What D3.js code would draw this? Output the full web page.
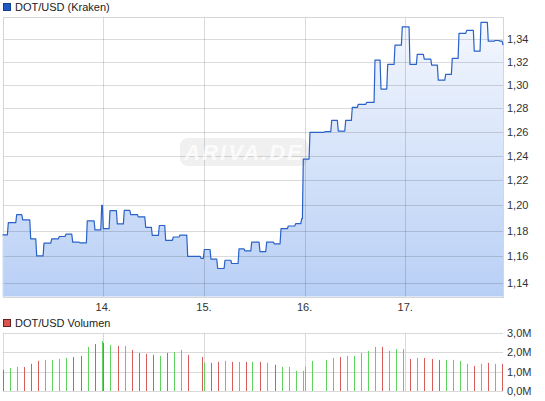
<!DOCTYPE html>
<html><head><meta charset="utf-8">
<script src="https://cdn.jsdelivr.net/npm/d3@7"></script>
<style>
body{margin:0;background:#fff}
svg{display:block}
text{font-family:"Liberation Sans",Arial,sans-serif}
</style>
</head><body>
<svg id="c" width="545" height="401"></svg>
<script>
// ---------- data ----------
const seriesName = "DOT/USD (Kraken)";
const volumeName = "DOT/USD Volumen";
// hours since 13th 00:00 (UTC) at which the price changes
const priceHours = [0,1.36,3.36,4.79,6.70,8.13,9.87,11.71,13.52,15.11,16.71,18.45,20.19,22.03,23.63,24.01,25.60,27.35,29.01,30.54,32.35,34.12,35.69,37.36,38.88,40.70,42.29,44.13,47.30,48.09,49.68,51.28,53.02,54.62,56.36,57.79,59.39,61.36,62.96,64.77,66.37,68.11,69.87,71.31,71.69,73.28,76.86,78.46,80.03,81.80,83.37,84.80,86.80,88.78,90.21,91.81,93.55,95.29,97.12,98.86,100.53,102.30,103.87,105.64,107.21,108.81,110.64,112.45,114.05,115.79,117.39,118.58,119.30];
const priceValues = [1.1767,1.1862,1.1926,1.1884,1.1736,1.1603,1.1702,1.1736,1.1754,1.1772,1.1710,1.1705,1.1876,1.1805,1.2000,1.1815,1.1957,1.1853,1.1959,1.1926,1.1908,1.1826,1.1762,1.1840,1.1723,1.1750,1.1765,1.1600,1.1585,1.1653,1.1578,1.1507,1.1570,1.1545,1.1657,1.1642,1.1710,1.1637,1.1710,1.1697,1.1815,1.1836,1.1855,1.1894,1.2374,1.2595,1.2601,1.2695,1.2606,1.2695,1.2805,1.2832,1.2848,1.3213,1.2962,1.3176,1.3346,1.3508,1.3176,1.3264,1.3223,1.3170,1.3039,1.3089,1.3229,1.3450,1.3477,1.3292,1.3548,1.3381,1.3387,1.3381,1.3346];
// volume bars
const volHours = [0,1.84,3.50,5.17,6.84,8.51,10.18,11.85,13.52,15.19,16.85,18.76,20.43,22.10,23.77,24.01,25.68,27.58,29.25,30.92,32.59,34.26,35.93,37.60,39.26,40.93,42.60,44.27,47.61,48.09,49.75,51.42,53.09,54.76,56.43,57.95,59.53,61.44,63.10,65.01,66.68,68.35,70.02,71.69,72.16,73.83,77.17,78.84,80.51,82.17,83.85,85.51,87.18,88.85,90.52,92.19,93.86,95.53,97.20,98.87,100.54,102.45,104.12,105.79,107.46,109.13,110.80,112.47,114.14,115.81,117.48,119.15];
const volValues = [1.09,1.19,1.24,1.24,1.40,1.55,1.60,1.60,1.65,1.70,1.75,1.81,2.27,2.42,2.57,2.47,2.37,2.32,2.32,2.11,1.96,1.91,1.86,1.81,1.96,2.01,2.11,1.86,1.75,1.45,1.45,1.50,1.55,1.50,1.50,1.50,1.50,1.50,1.45,1.35,1.24,1.24,1.04,1.04,1.24,1.55,1.60,1.70,1.75,1.81,1.81,1.96,2.06,2.27,2.27,2.06,2.16,2.16,1.65,1.70,1.70,1.65,1.60,1.60,1.60,1.55,1.40,1.29,1.40,1.45,1.40,1.40]; // millions
const volDir = ["d","u","u","d","d","d","u","u","u","u","d","d","u","d","u","d","u","d","u","d","d","d","d","u","d","u","u","d","d","u","d","d","u","d","u","d","u","d","u","d","u","u","u","u","u","u","u","u","d","u","u","u","u","u","d","u","u","u","d","u","d","d","d","u","u","u","u","d","u","d","u","d"];
const priceTicks = [1.14,1.16,1.18,1.20,1.22,1.24,1.26,1.28,1.30,1.32,1.34];
const volTicks = [0,1,2,3];
const dayTicks = [14,15,16,17];
const priceDomain = [1.1295,1.36];
const volDomain = [0,3];
const spanHours = 119.3;

// ---------- layout ----------
const L = 2.6, R = 503;
const mainTop = 16.7, mainBot = 296.5;
const volTop = 332.7, volBot = 391;
const base = Date.UTC(2026,0,13);
const hr = h => new Date(base + h*3600e3);

const svg = d3.select("#c");
const x = d3.scaleUtc().domain([hr(0), hr(spanHours)]).range([L, R]);
const y = d3.scaleLog().domain(priceDomain).range([mainBot, mainTop]);
const yv = d3.scaleLinear().domain(volDomain).range([volBot, volTop]);
const fmt = d3.format(".2f");
const comma = s => s.replace(".", ",");
const crisp = v => Math.round(v) + 0.5;

const defs = svg.append("defs");
const grad = defs.append("linearGradient").attr("id","g").attr("gradientUnits","userSpaceOnUse")
  .attr("x1",0).attr("x2",0).attr("y1",mainTop).attr("y2",mainBot);
grad.append("stop").attr("offset",0).attr("stop-color","#f5f8fe");
grad.append("stop").attr("offset",1).attr("stop-color","#b8cff5");

// step path with short sloped transitions (as the original rendering)
const pts = [];
priceHours.forEach((h,i)=>{
  if (i>0) pts.push({t:hr(Math.max(priceHours[i-1], h-0.22)), v:priceValues[i-1]});
  pts.push({t:hr(h), v:priceValues[i]});
});

// area
svg.append("path").datum(pts)
  .attr("d", d3.area().x(d=>x(d.t)).y0(mainBot).y1(d=>y(d.v)))
  .attr("fill","url(#g)");

// grid main
const gm = svg.append("g").attr("stroke","#000").attr("stroke-opacity",0.14).attr("stroke-width",1);
priceTicks.forEach(v=>gm.append("line").attr("x1",L).attr("x2",R).attr("y1",crisp(y(v))).attr("y2",crisp(y(v))));
dayTicks.forEach(d=>{const xx=crisp(x(new Date(Date.UTC(2026,0,d))));
  gm.append("line").attr("x1",xx).attr("x2",xx).attr("y1",mainTop).attr("y2",mainBot);});
// frame main
svg.append("rect").attr("x",crisp(L)).attr("y",crisp(mainTop)).attr("width",Math.round(R)-Math.round(L)).attr("height",Math.round(mainBot)-Math.round(mainTop))
  .attr("fill","none").attr("stroke","#d6d6d6");

// watermark
const wm = svg.append("g").attr("transform","translate(244,152)");
wm.append("rect").attr("x",-64).attr("y",-14).attr("width",128).attr("height",28).attr("rx",8)
  .attr("fill","#888").attr("fill-opacity",0.13);
wm.append("text").attr("text-anchor","middle").attr("y",8).attr("font-size",22).attr("font-style","italic")
  .attr("font-weight","bold").attr("letter-spacing",2).attr("fill","#fff").attr("fill-opacity",0.75).text("ARIVA.DE");

// line
svg.append("path").datum(pts)
  .attr("d", d3.line().x(d=>x(d.t)).y(d=>y(d.v)))
  .attr("fill","none").attr("stroke","#2a62c8").attr("stroke-width",1.2).attr("stroke-linejoin","round");

// price labels
svg.append("g").selectAll("text").data(priceTicks).join("text")
  .attr("x",507).attr("y",d=>y(d)+4).attr("font-size",11).attr("fill","#333")
  .text(d=>comma(fmt(d)));
// day labels
svg.append("g").selectAll("text").data(dayTicks).join("text")
  .attr("x",d=>x(new Date(Date.UTC(2026,0,d)))).attr("y",311).attr("text-anchor","middle")
  .attr("font-size",11).attr("fill","#333").text(d=>d3.utcFormat("%d.")(new Date(Date.UTC(2026,0,d))));

// legend main
svg.append("rect").attr("x",3.5).attr("y",3.5).attr("width",7).attr("height",7).attr("fill","#1f5bc6").attr("stroke","#163f8a");
svg.append("text").attr("x",15).attr("y",10.5).attr("font-size",11).attr("fill","#222").text(seriesName);

// legend volume
svg.append("rect").attr("x",3.5).attr("y",319.5).attr("width",7).attr("height",7).attr("fill","#d9534f").attr("stroke","#6b2020");
svg.append("text").attr("x",15).attr("y",326.5).attr("font-size",11).attr("fill","#222").text(volumeName);

// volume grid
const gv = svg.append("g").attr("stroke","#d9d9d9").attr("stroke-width",1);
volTicks.forEach(v=>gv.append("line").attr("x1",L).attr("x2",R).attr("y1",crisp(yv(v))).attr("y2",crisp(yv(v))));
dayTicks.forEach(d=>{const xx=crisp(x(new Date(Date.UTC(2026,0,d))));
  gv.append("line").attr("x1",xx).attr("x2",xx).attr("y1",volTop).attr("y2",volBot);});
gv.append("line").attr("x1",crisp(L)).attr("x2",crisp(L)).attr("y1",volTop).attr("y2",volBot);

// volume bars
svg.append("g").selectAll("rect").data(volHours).join("rect")
  .attr("x",(h)=>Math.round(x(hr(h))))
  .attr("width",1)
  .attr("y",(h,i)=>yv(volValues[i]))
  .attr("height",(h,i)=>yv(0)-yv(volValues[i]))
  .attr("fill",(h,i)=>volDir[i]==="u"?"#5ed45e":"#d95c5c");

// volume labels
svg.append("g").selectAll("text").data(volTicks).join("text")
  .attr("x",507).attr("y",d=>yv(d)+4).attr("font-size",11).attr("fill","#333")
  .text(d=>comma(d.toFixed(1))+"M");
</script>
</body></html>
